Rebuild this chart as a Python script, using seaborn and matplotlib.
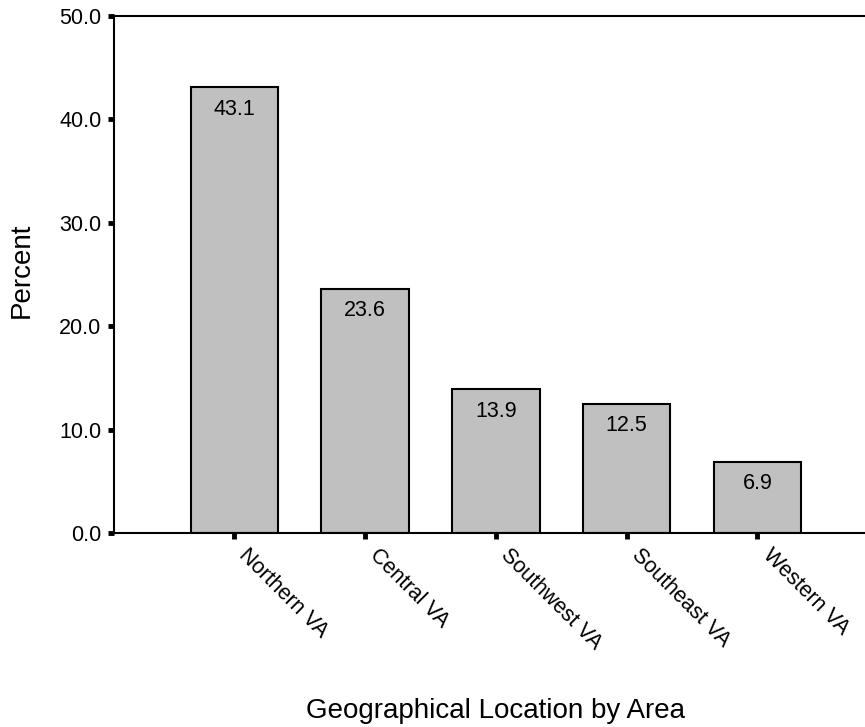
import matplotlib
matplotlib.use("Agg")
import matplotlib.pyplot as plt
import matplotlib.transforms as mtransforms
import seaborn as sns

# data
regions = ["Northern VA", "Central VA", "Southwest VA", "Southeast VA", "Western VA"]
percent = [43.1, 23.6, 13.9, 12.5, 6.9]
y_ticks = [0, 10, 20, 30, 40, 50]

sns.set_style("ticks")
plt.rcParams['font.family'] = ['Liberation Sans', 'DejaVu Sans']
plt.rcParams['text.color'] = 'black'
plt.rcParams['axes.labelcolor'] = 'black'
plt.rcParams['xtick.labelcolor'] = 'black'
plt.rcParams['ytick.labelcolor'] = 'black'

fig = plt.figure(figsize=(8.65, 7.27), dpi=100)
W, H = 865, 727
ax = fig.add_axes([114 / W, (H - 533) / H, (866 - 114) / W, (533 - 16) / H])

sns.barplot(x=regions, y=percent, color='#c0c0c0', saturation=1,
            edgecolor='black', linewidth=1.5, width=0.67, ax=ax)

# value labels just inside the top of each bar
for i, v in enumerate(percent):
    ax.annotate(f"{v:.1f}", (i, v), xytext=(0, -22), textcoords='offset pixels',
                ha='center', va='center', fontsize=15.5, color='black')

ax.set_xlim(-0.92, 4.83)
ax.set_ylim(0, 50)
ax.set_yticks(y_ticks)
ax.set_yticklabels([f"{t:.1f}" for t in y_ticks], fontsize=15.5)
ax.set_xticks(range(len(regions)))
ax.set_xticklabels(regions, fontsize=15.5, rotation=-45, ha='left', va='center',
                   rotation_mode='anchor')

for s in ['left', 'bottom', 'top']:
    ax.spines[s].set_linewidth(1.5)
    ax.spines[s].set_color('black')
ax.spines['right'].set_visible(False)
ax.tick_params(axis='both', length=4, width=3.5, color='black', pad=5)
ax.tick_params(axis='x', pad=10)

# nudge the slanted labels a little to the right, like the original
shift = mtransforms.ScaledTranslation(8 / 100, 0, fig.dpi_scale_trans)
for lab in ax.get_xticklabels():
    lab.set_transform(lab.get_transform() + shift)

ax.set_xlabel("Geographical Location by Area", fontsize=20, va='center')
ax.set_ylabel("Percent", fontsize=20, va='center')
ax.xaxis.set_label_coords((496 - 114) / 752, (533 - 711) / 517)
ax.yaxis.set_label_coords((22 - 114) / 752, (533 - 270) / 517)

fig.savefig("out.png", dpi=100)
